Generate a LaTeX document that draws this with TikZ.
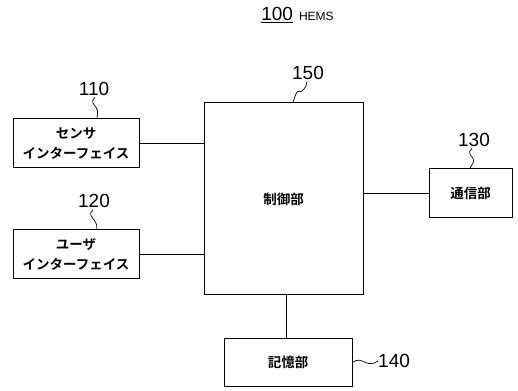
\documentclass[tikz,border=0pt]{standalone}
\usepackage{fontspec}
\setsansfont{Liberation Sans}
\newfontfamily\jpfont{Noto Sans CJK JP}[BoldFont={Noto Sans CJK JP Bold}]
\usepackage{tikz}
\usetikzlibrary{calc}
\tikzstyle{unit}  = [rectangle, draw=black, line width=1pt, inner sep=0pt, align=center, font=\jpfont\bfseries\fontsize{13.5}{20}\selectfont]
\tikzstyle{refno} = [inner sep=0pt, font=\sffamily\fontsize{19}{19}\selectfont]
\tikzstyle{line}  = [line width=0.8pt]
\tikzstyle{lead}  = [line width=0.7pt]

\begin{document}
\begin{tikzpicture}[x=1pt, y=1pt]
    \useasboundingbox (0,0) rectangle (518,390);

    \node (title) at (297.5,375) [inner sep=0pt, font=\sffamily] {\fontsize{19}{19}\selectfont\underline{100}\hspace{6pt}\fontsize{12}{12}\selectfont HEMS};

    \node (ctrl)   at (283.5,191)   [unit, minimum width=159pt, minimum height=192pt] {制御部};
    \node (sensor) at (76,246.5)    [unit, minimum width=126pt, minimum height=49pt] {センサ\\インターフェイス};
    \node (user)   at (76,135.5)    [unit, minimum width=126pt, minimum height=49pt] {ユーザ\\インターフェイス};
    \node (comm)   at (470.5,196.5) [unit, minimum width=83pt, minimum height=49pt] {通信部};
    \node (mem)    at (288,27.5)    [unit, minimum width=128pt, minimum height=47pt] {記憶部};

    % reference numbers
    \node (n150) at (308,317.5) [refno] {150};
    \node (n110) at (94,301.5)  [refno] {110};
    \node (n120) at (94,189)    [refno] {120};
    \node (n130) at (474,250.5) [refno] {130};
    \node (n140) at (378,29)    [refno, anchor=west] {140};

    % leads
    \draw [lead] ($(n150.south)+(-1,-2)$) .. controls +(0,-6) and +(2,-2) .. ++(-8,-10) .. controls +(-2,2) and +(1,4) .. (ctrl.north -| 293,0);
    \draw [lead] ($(n110.south)+(1,-2)$) .. controls +(-5,-4) and +(-2,3) .. ++(1,-10) .. controls +(3,-4) and +(0,3) .. (sensor.north -| 97,0);
    \draw [lead] ($(n120.south)+(-1,-2)$) .. controls +(-5,-4) and +(-2,3) .. ++(1,-10) .. controls +(3,-4) and +(0,3) .. (user.north -| 97,0);
    \draw [lead] ($(n130.south)+(-2,-2)$) .. controls +(-5,-4) and +(-2,3) .. ++(1,-10) .. controls +(3,-4) and +(0,3) .. (comm.north -| 470,0);
    \draw [lead] (mem.east) .. controls +(5,4) and +(-4,2) .. ++(13,0) .. controls +(4,-2) and +(-4,-3) .. (n140.west);

    % connectors
    \draw [line] (sensor.east) -- (sensor.east -| ctrl.west);
    \draw [line] (user.east) -- (user.east -| ctrl.west);
    \draw [line] (comm.west) -- (comm.west -| ctrl.east);
    \draw [line] (ctrl.south -| 286,0) -- (mem.north -| 286,0);
\end{tikzpicture}
\end{document}
